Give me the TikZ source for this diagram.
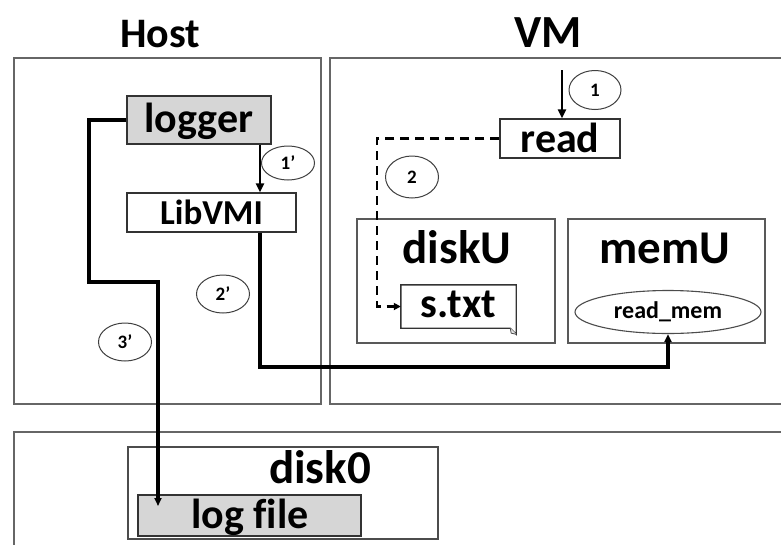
\documentclass[tikz,border=0pt]{standalone}
\usepackage{fontspec}
\setmainfont{Carlito}
\usetikzlibrary{shapes.geometric,arrows.meta}

\tikzset{
  frame/.style={draw=black!60, line width=1.7pt},
  box/.style={rectangle, draw=black!80, line width=1.4pt, inner sep=0pt},
  greybox/.style={box, fill=black!16},
  lbl/.style={anchor=base, inner sep=0pt, font=\bfseries\fontsize{#1}{#1}\selectfont},
  tag/.style={ellipse, draw=black!75, line width=1pt, inner sep=0pt,
    font=\bfseries\fontsize{19}{19}\selectfont},
  flow/.style={line width=3.2pt, -{Triangle[length=8pt,width=7pt]}},
  thinflow/.style={line width=2.3pt, -{Triangle[length=9pt,width=8pt]}},
  dflow/.style={line width=2.8pt, dash pattern=on 9pt off 6pt,
    -{Triangle[length=7pt,width=7pt]}},
}

\begin{document}
\begin{tikzpicture}[x=1pt, y=-1pt]
\useasboundingbox (0,0) rectangle (781,544);
\clip (0,0) rectangle (781,544);
\fill[white] (0,0) rectangle (781,544);

% outer frames
\draw[frame] (14,58) rectangle (321,404);
\draw[frame] (330,58) rectangle (800,404);
\draw[frame] (14,432) rectangle (800,570);
\node[lbl=42] (hosttxt) at (160,47) {Host};
\node[lbl=46] (vmtxt) at (548,47) {VM};

% host side
\node[greybox, minimum width=144pt, minimum height=48pt] (logger) at (199,120) {};
\node[lbl=42] (loggertxt) at (199,132) {logger};
\node[box, fill=white, minimum width=169pt, minimum height=39pt] (libvmi) at (211.5,212.5) {};
\node[lbl=35] (libvmitxt) at (211.5,224) {LibVMI};

% VM side
\node[box, fill=white, minimum width=120pt, minimum height=39pt] (read) at (560,138.5) {};
\node[lbl=42] (readtxt) at (560,152) {read};
\node[box, draw=black!65, minimum width=198pt, minimum height=124pt] (disku) at (456,281) {};
\node[lbl=47] (diskutxt) at (457,263) {diskU};
\node[box, draw=black!65, minimum width=197pt, minimum height=124pt] (memu) at (666.5,281) {};
\node[lbl=47] (memutxt) at (665,263) {memU};

% s.txt: a sheet with a folded bottom-right corner
\node[minimum width=115pt, minimum height=43pt, inner sep=0pt] (stxt) at (458.5,306.5) {};
\draw[line width=1.4pt, draw=black!80]
  (stxt.north west) -- (stxt.north east) -- ([yshift=-6pt]stxt.south east)
  -- ([xshift=-6pt]stxt.south east) -- (stxt.south west) -- cycle;
\draw[line width=0.8pt, draw=black!70, fill=black!10]
  ([yshift=-6pt]stxt.south east) -- ([xshift=-5pt,yshift=-5pt]stxt.south east)
  -- ([xshift=-6pt]stxt.south east);
\node[lbl=42] (stxttxt) at (458.5,317) {s.txt};

\node[ellipse, draw=black!70, line width=1.1pt, minimum width=186pt,
  minimum height=43pt, inner sep=0pt] (readmem) at (668,312) {};
\node[lbl=24] (readmemtxt) at (668,318) {read\_mem};

% disk0
\node[box, draw=black!70, minimum width=310pt, minimum height=92pt] (disk0) at (283,493) {};
\node[lbl=47] (disk0txt) at (320,483) {disk0};
\node[greybox, minimum width=223pt, minimum height=41pt] (logfile) at (249.5,515.5) {};
\node[lbl=42] (logfiletxt) at (250,528) {log f\kern0pt ile};

% step tags
\node[tag, minimum width=52pt, minimum height=39pt] (t1) at (595,90) {1};
\node[tag, minimum width=53pt, minimum height=42pt] (t2) at (412,177) {2};
\node[tag, minimum width=53pt, minimum height=34pt] (t1p) at (288,163) {1’};
\node[tag, minimum width=53pt, minimum height=38pt] (t2p) at (223,294) {2’};
\node[tag, minimum width=53pt, minimum height=38pt] (t3p) at (125,342) {3’};

% connectors
\coordinate (in1) at (562,70);
\coordinate (c1) at (260,0);
\coordinate (dx) at (377,0);
\coordinate (bend2) at (260,367);
\coordinate (l1) at (89,120);
\coordinate (l2) at (89,282);
\coordinate (l3) at (158,282);
\coordinate (l4) at (158,506);

\draw[thinflow] (in1) -- (in1 |- read.north);
\draw[thinflow] (logger.south -| c1) -- (libvmi.north -| c1);
\draw[dflow] (read.west) -- (read.west -| dx) |- (stxt.west);
\draw[flow] (libvmi.south -| bend2) -- (bend2) -| (readmem.south);
\draw[flow] (logger.west) -- (l1) -- (l2) -- (l3) -- (l4);
\end{tikzpicture}
\end{document}
